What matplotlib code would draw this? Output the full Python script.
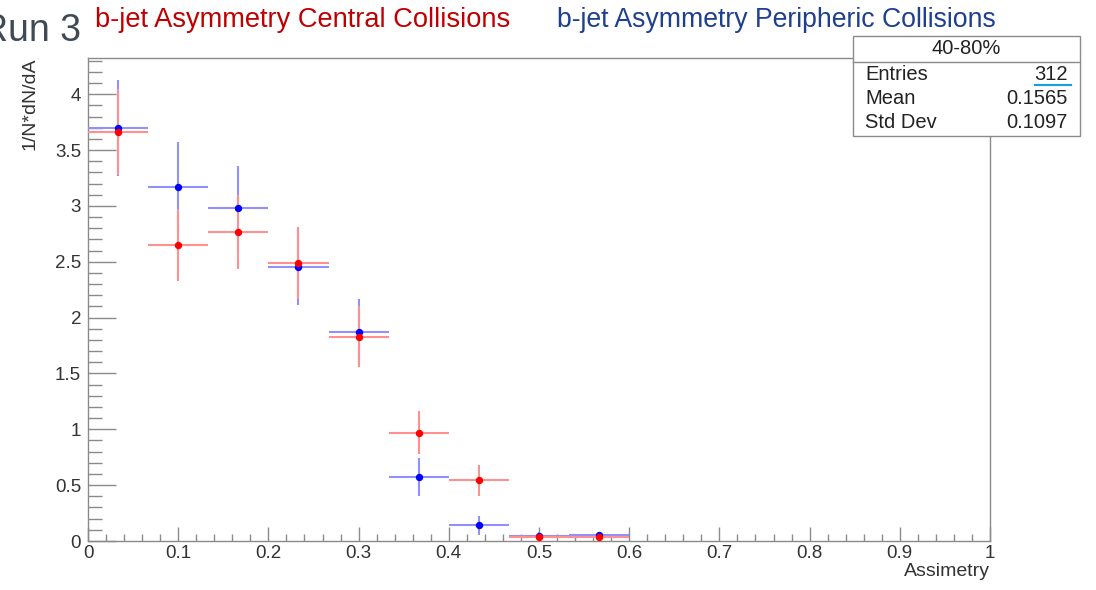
import numpy as np
import matplotlib
matplotlib.use("Agg")
import matplotlib.pyplot as plt
from matplotlib.patches import Rectangle
from matplotlib.lines import Line2D
from matplotlib.ticker import MultipleLocator

plt.rcParams['font.family'] = ['Liberation Sans', 'DejaVu Sans']

# histogram binning: 15 bins on [0, 1], only the first 9 are filled
n_bins = 15
x_range = (0.0, 1.0)

central_vals = [3.665, 2.65, 2.77, 2.49, 1.83, 0.97, 0.545, 0.04, 0.04]
central_errs = [0.385, 0.32, 0.33, 0.32, 0.27, 0.195, 0.14, 0.025, 0.025]
peripheric_vals = [3.70, 3.17, 2.98, 2.45, 1.87, 0.57, 0.14, 0.047, 0.05]
peripheric_errs = [0.43, 0.40, 0.38, 0.34, 0.30, 0.17, 0.085, 0.03, 0.035]

stats_title = "40-80%"
stats_names = ["Entries", "Mean", "Std Dev"]
stats_values = ["312", "0.1565", "0.1097"]

W, H = 1096, 590
fig = plt.figure(figsize=(W / 100, H / 100), dpi=100)


def fx(px):
    return px / W


def fy(py):
    return 1 - py / H


ax = fig.add_axes([fx(88), fy(541), fx(990) - fx(88), fy(58) - fy(541)])

edges = np.linspace(x_range[0], x_range[1], n_bins + 1)
centers = 0.5 * (edges[:-1] + edges[1:])
half_w = 0.5 * (edges[1] - edges[0])
n = len(central_vals)

# error crosses first, then the points on top of them
ax.errorbar(centers[:n], peripheric_vals, yerr=peripheric_errs, xerr=half_w,
            fmt='none', ecolor='#9090ff', elinewidth=1.5, capsize=0, zorder=3)
ax.errorbar(centers[:n], central_vals, yerr=central_errs, xerr=half_w,
            fmt='none', ecolor='#ff9090', elinewidth=1.5, capsize=0, zorder=4)
ax.plot(centers[:n], peripheric_vals, 'o', ms=4.3, color='#0000ff', zorder=5)
ax.plot(centers[:n], central_vals, 'o', ms=4.3, color='#ff0000', zorder=6)

ax.set_xlim(0, 1)
ax.set_ylim(0, 4.325)

grey = '#8a8a8a'
for s in ax.spines.values():
    s.set_color(grey)
    s.set_linewidth(1.0)

ax.xaxis.set_major_locator(MultipleLocator(0.1))
ax.xaxis.set_minor_locator(MultipleLocator(0.02))
ax.yaxis.set_major_locator(MultipleLocator(0.5))
ax.yaxis.set_minor_locator(MultipleLocator(0.1))
ax.xaxis.set_major_formatter(plt.FuncFormatter(lambda v, p: f"{v:g}"))
ax.yaxis.set_major_formatter(plt.FuncFormatter(lambda v, p: f"{v:g}"))

ax.tick_params(axis='x', which='major', direction='in', length=10, width=1,
               color=grey, labelsize=13.5, pad=3, labelcolor='#333333')
ax.tick_params(axis='x', which='minor', direction='in', length=5, width=1, color=grey)
ax.tick_params(axis='y', which='major', direction='in', length=20, width=1,
               color=grey, labelsize=13.5, pad=5, labelcolor='#333333')
ax.tick_params(axis='y', which='minor', direction='in', length=10, width=1, color=grey)

fig.text(fx(990), fy(563), "Assimetry", ha='right', va='top', fontsize=14, color='#333333')
fig.text(fx(30), fy(57), "1/N*dN/dA", ha='center', va='top', rotation=90,
         fontsize=14, color='#333333')

# header texts
fig.text(fx(-19), fy(41), "Run 3", ha='left', va='baseline', fontsize=27, color='#404a55')
fig.text(fx(95), fy(27), "b-jet Asymmetry Central Collisions", ha='left', va='baseline',
         fontsize=19.6, color='#c00000')
fig.text(fx(557), fy(27), "b-jet Asymmetry Peripheric Collisions", ha='left', va='baseline',
         fontsize=19.2, color='#1f3f8f')

# statistics box
bx0, by0, bx1, by1 = 853, 36, 1080, 136
fig.add_artist(Rectangle((fx(bx0), fy(by1)), fx(bx1) - fx(bx0), fy(by0) - fy(by1),
                         transform=fig.transFigure, facecolor='white',
                         edgecolor=grey, linewidth=1.0, zorder=10))
fig.add_artist(Line2D([fx(bx0), fx(bx1)], [fy(62), fy(62)], transform=fig.transFigure,
                      color=grey, linewidth=1.0, zorder=11))
fig.text(fx((bx0 + bx1) / 2), fy(49), stats_title, ha='center', va='center',
         fontsize=14.5, color='#222222', zorder=12)
for i, (name, val) in enumerate(zip(stats_names, stats_values)):
    yy = fy(75 + 23.5 * i)
    fig.text(fx(865), yy, name, ha='left', va='center', fontsize=14.5, color='#222222', zorder=12)
    fig.text(fx(1068), yy, val, ha='right', va='center', fontsize=14.5, color='#222222', zorder=12)
fig.add_artist(Line2D([fx(1035), fx(1071)], [fy(85), fy(85)], transform=fig.transFigure,
                      color='#1e9fdc', linewidth=1.6, zorder=12))

fig.savefig("out.png", dpi=100)
